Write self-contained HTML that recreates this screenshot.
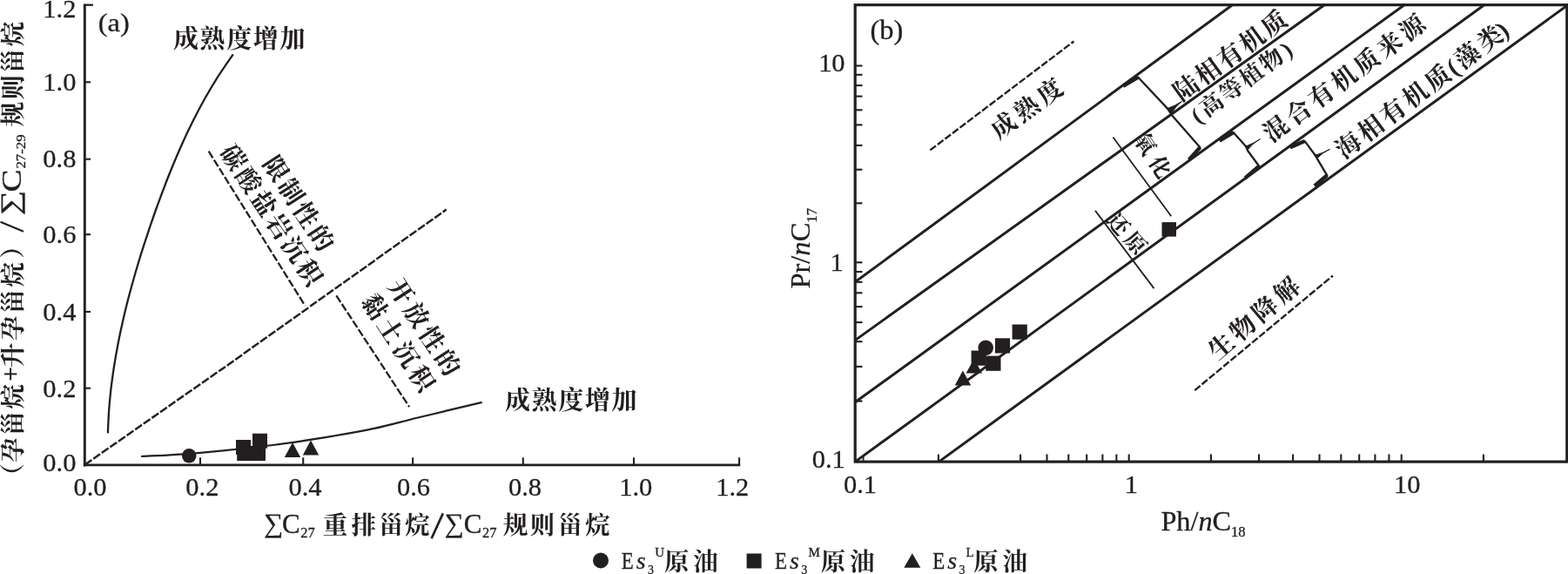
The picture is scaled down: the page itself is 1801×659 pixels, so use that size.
<!DOCTYPE html>
<html><head><meta charset="utf-8"><title>chart</title>
<style>
html,body{margin:0;padding:0;background:#fff;}
svg{display:block;font-family:"Liberation Serif",serif;will-change:transform;-webkit-font-smoothing:antialiased;}
text{fill:#231f20;stroke:#231f20;stroke-width:0.3px;}
.cjk{font-family:"Liberation Serif","Noto Serif CJK SC",serif;font-weight:bold;stroke:none;}
</style></head>
<body>
<svg width="1801" height="659" viewBox="0 0 1801 659" stroke="#231f20" fill="none">
<rect x="0" y="0" width="1801" height="659" fill="#ffffff" stroke="none"/>
<line x1="97.3" y1="4.5" x2="97.3" y2="535.4" stroke-width="2.9" stroke-linecap="butt"/>
<line x1="95.9" y1="533.9" x2="850.2" y2="533.9" stroke-width="2.9" stroke-linecap="butt"/>
<line x1="97.3" y1="5.7" x2="106.9" y2="5.7" stroke-width="2.3" stroke-linecap="butt"/>
<line x1="97.3" y1="94.3" x2="104.0" y2="94.3" stroke-width="2.1" stroke-linecap="butt"/>
<line x1="97.3" y1="182.7" x2="104.0" y2="182.7" stroke-width="2.1" stroke-linecap="butt"/>
<line x1="97.3" y1="269.2" x2="104.0" y2="269.2" stroke-width="2.1" stroke-linecap="butt"/>
<line x1="97.3" y1="357.9" x2="104.0" y2="357.9" stroke-width="2.1" stroke-linecap="butt"/>
<line x1="97.3" y1="445.7" x2="104.0" y2="445.7" stroke-width="2.1" stroke-linecap="butt"/>
<line x1="230.0" y1="533.9" x2="230.0" y2="525.3" stroke-width="2.1" stroke-linecap="butt"/>
<line x1="348.2" y1="533.9" x2="348.2" y2="525.3" stroke-width="2.1" stroke-linecap="butt"/>
<line x1="474.1" y1="533.9" x2="474.1" y2="525.3" stroke-width="2.1" stroke-linecap="butt"/>
<line x1="600.8" y1="533.9" x2="600.8" y2="525.3" stroke-width="2.1" stroke-linecap="butt"/>
<line x1="728.0" y1="533.9" x2="728.0" y2="525.3" stroke-width="2.1" stroke-linecap="butt"/>
<line x1="849.1" y1="533.9" x2="849.1" y2="525.3" stroke-width="2.1" stroke-linecap="butt"/>
<text transform="translate(87.4,20.0) scale(1.04,1)" font-size="29.3" text-anchor="end">1.2</text>
<text transform="translate(87.4,104.0) scale(1.04,1)" font-size="29.3" text-anchor="end">1.0</text>
<text transform="translate(87.4,192.3) scale(1.04,1)" font-size="29.3" text-anchor="end">0.8</text>
<text transform="translate(87.4,278.9) scale(1.04,1)" font-size="29.3" text-anchor="end">0.6</text>
<text transform="translate(87.4,367.7) scale(1.04,1)" font-size="29.3" text-anchor="end">0.4</text>
<text transform="translate(87.4,455.5) scale(1.04,1)" font-size="29.3" text-anchor="end">0.2</text>
<text transform="translate(87.4,541.0) scale(1.04,1)" font-size="29.3" text-anchor="end">0.0</text>
<text transform="translate(103.5,568.8) scale(1.04,1)" font-size="29.3" text-anchor="middle">0.0</text>
<text transform="translate(232.4,568.8) scale(1.04,1)" font-size="29.3" text-anchor="middle">0.2</text>
<text transform="translate(350.5,568.8) scale(1.04,1)" font-size="29.3" text-anchor="middle">0.4</text>
<text transform="translate(475.0,568.8) scale(1.04,1)" font-size="29.3" text-anchor="middle">0.6</text>
<text transform="translate(603.0,568.8) scale(1.04,1)" font-size="29.3" text-anchor="middle">0.8</text>
<text transform="translate(730.3,568.8) scale(1.04,1)" font-size="29.3" text-anchor="middle">1.0</text>
<text transform="translate(841.2,568.8) scale(1.04,1)" font-size="29.3" text-anchor="middle">1.2</text>
<text x="112.8" y="35.6" font-size="29.3" text-anchor="start" textLength="36" lengthAdjust="spacingAndGlyphs">(a)</text>
<path d="M267.8,62.3C264.9,66.6 255.9,79.4 250.4,87.9C245.0,96.4 239.9,105.0 235.1,113.5C230.3,122.0 225.8,130.6 221.6,139.1C217.3,147.6 213.3,156.1 209.4,164.7C205.6,173.2 201.9,181.7 198.4,190.3C194.9,198.8 191.5,207.3 188.3,215.9C185.0,224.4 181.9,232.9 178.8,241.5C175.8,250.0 172.8,258.5 170.0,267.1C167.1,275.6 164.4,284.1 161.7,292.6C159.1,301.2 156.5,309.7 154.1,318.2C151.6,326.8 149.3,335.3 147.1,343.8C144.9,352.4 142.8,360.9 140.9,369.4C138.9,378.0 137.1,386.5 135.5,395.0C133.9,403.6 132.4,412.1 131.0,420.6C129.7,429.1 128.5,437.7 127.5,446.2C126.6,454.7 125.7,463.3 125.1,471.8C124.5,480.3 124.1,493.1 123.9,497.4" stroke-width="2.3" fill="none" />
<path d="M162.1,524.0C172.5,523.4 199.4,522.5 224.6,520.3C249.8,518.1 286.8,514.3 313.2,511.0C339.6,507.7 363.8,503.7 383.2,500.5C402.6,497.3 413.7,495.4 429.8,491.9C445.9,488.4 459.4,484.5 480.0,479.5C500.6,474.5 541.4,464.8 553.7,461.9" stroke-width="2.2" fill="none" />
<path d="M97.6,533.4L260.3,420L512.6,240.6" stroke-width="2.45" fill="none" stroke-dasharray="9.5 2.2" stroke-linejoin="round"/>
<line x1="239.7" y1="173.7" x2="350.5" y2="351.2" stroke-width="2.3" stroke-dasharray="9 2.6" stroke-linecap="butt"/>
<line x1="386.3" y1="339.3" x2="470.1" y2="467.1" stroke-width="2.3" stroke-dasharray="9 2.6" stroke-linecap="butt"/>
<g transform="translate(213.5,43.5) rotate(0.0)" stroke="none" fill="#231f20"><text class="cjk" x="-14.5 16.1 46.7 77.3 107.9" y="11.02" font-size="29">成熟度增加</text></g>
<g transform="translate(594.6,458.7) rotate(0.0)" stroke="none" fill="#231f20"><text class="cjk" x="-14.5 16.1 46.7 77.3 107.9" y="11.02" font-size="29">成熟度增加</text></g>
<g transform="translate(317.6,193.2) rotate(57.0)" stroke="none" fill="#231f20"><text class="cjk" x="-14.25 17.45 49.15 80.85" y="10.83" font-size="28.5">限制性的</text></g>
<g transform="translate(268.6,180.5) rotate(56.5)" stroke="none" fill="#231f20"><text class="cjk" x="-14.25 17.45 49.15 80.85 112.55 144.25" y="10.83" font-size="28.5">碳酸盐岩沉积</text></g>
<g transform="translate(461.4,334.3) rotate(57.0)" stroke="none" fill="#231f20"><text class="cjk" x="-14.25 18.25 50.75 83.25" y="10.83" font-size="28.5">开放性的</text></g>
<g transform="translate(431.0,351.4) rotate(56.8)" stroke="none" fill="#231f20"><text class="cjk" x="-14.25 18.75 51.75 84.75" y="10.83" font-size="28.5">黏土沉积</text></g>
<circle cx="217.2" cy="523.3" r="8.3" fill="#231f20" stroke="none"/>
<rect x="271.0" y="505.0" width="17" height="17" fill="#231f20" stroke="none"/>
<rect x="290.0" y="497.7" width="17" height="17" fill="#231f20" stroke="none"/>
<rect x="272.2" y="512.0" width="17" height="17" fill="#231f20" stroke="none"/>
<rect x="288.0" y="512.0" width="17" height="17" fill="#231f20" stroke="none"/>
<path d="M326.8,525.0L345.2,525.0L336.0,508.0Z" fill="#231f20" stroke="none"/>
<path d="M347.8,522.4L366.2,522.4L357.0,505.4Z" fill="#231f20" stroke="none"/>
<text x="303.0" y="610.6" font-size="31" text-anchor="start" >∑</text>
<text x="324.0" y="612.3" font-size="31" text-anchor="start" >C</text>
<text x="345.3" y="617.0" font-size="16.5" text-anchor="start" >27</text>
<g transform="translate(385.0,602.0) rotate(0.0)" stroke="none" fill="#231f20"><text class="cjk" x="-14.25 18.45 49.95 79.95" y="10.83" font-size="28.5">重排甾烷</text></g>
<line x1="495.6" y1="618.2" x2="508.8" y2="589.4" stroke-width="2.7" stroke-linecap="butt"/>
<text x="510.5" y="610.6" font-size="31" text-anchor="start" >∑</text>
<text x="532.7" y="612.3" font-size="31" text-anchor="start" >C</text>
<text x="554.0" y="617.0" font-size="16.5" text-anchor="start" >27</text>
<g transform="translate(592.0,602.0) rotate(0.0)" stroke="none" fill="#231f20"><text class="cjk" x="-14.25 16.45 48.75 80.05" y="10.83" font-size="28.5">规则甾烷</text></g>
<g transform="translate(0,0) rotate(-90)">
<g transform="translate(-546.2,14.5) rotate(0.0)" stroke="none" fill="#231f20"><text class="cjk" x="-14.25" y="10.83" font-size="28.5">（</text></g>
<g transform="translate(-516.8,14.5) rotate(0.0)" stroke="none" fill="#231f20"><text class="cjk" x="-14.25 16.55 47.35" y="10.83" font-size="28.5">孕甾烷</text></g>
<g transform="translate(-407.7,14.5) rotate(0.0)" stroke="none" fill="#231f20"><text class="cjk" x="-14.25 16.55 47.35 78.15" y="10.83" font-size="28.5">升孕甾烷</text></g>
<g transform="translate(-282.5,14.5) rotate(0.0)" stroke="none" fill="#231f20"><text class="cjk" x="-14.25" y="10.83" font-size="28.5">）</text></g>
<text transform="translate(-247.4,21.6) scale(1.3,1)" font-size="31">∑</text>
<text transform="translate(-220.6,23.5) scale(1.2,1)" font-size="32.5">C</text>
<text transform="translate(-193.6,28.6) scale(1.16,1)" font-size="14.5">27-29</text>
<g transform="translate(-131.2,14.5) rotate(0.0)" stroke="none" fill="#231f20"><text class="cjk" x="-14.25 16.45 47.15 77.85" y="10.83" font-size="28.5">规则甾烷</text></g>
</g>
<line x1="27.0" y1="265.8" x2="0.5" y2="254.8" stroke-width="2.3" stroke-linecap="butt"/>
<line x1="12.1" y1="422.4" x2="12.1" y2="436.4" stroke-width="2.0" stroke-linecap="butt"/>
<line x1="5.0" y1="429.4" x2="19.3" y2="429.4" stroke-width="2.0" stroke-linecap="butt"/>
<circle cx="690.0" cy="643.5" r="9" fill="#231f20" stroke="none"/>
<rect x="857.6" y="635.5" width="17" height="17" fill="#231f20" stroke="none"/>
<path d="M1038.3,651.8L1057.3,651.8L1047.8,635.3Z" fill="#231f20" stroke="none"/>
<text x="713.8" y="652.6" font-size="27" text-anchor="start" textLength="14" lengthAdjust="spacingAndGlyphs">E</text>
<text x="730.8" y="652.6" font-size="28" text-anchor="start" style="font-style:italic" >s</text>
<text x="744.1" y="658.6" font-size="14" text-anchor="start" >3</text>
<text x="752.2" y="639.4" font-size="15" text-anchor="start" >U</text>
<g transform="translate(777.2,644.3) rotate(0.0)" stroke="none" fill="#231f20"><text class="cjk" x="-14.25 19.05" y="10.83" font-size="28.5">原油</text></g>
<text x="890.0" y="652.6" font-size="27" text-anchor="start" textLength="14" lengthAdjust="spacingAndGlyphs">E</text>
<text x="907.0" y="652.6" font-size="28" text-anchor="start" style="font-style:italic" >s</text>
<text x="920.3" y="658.6" font-size="14" text-anchor="start" >3</text>
<text x="928.4" y="639.4" font-size="15" text-anchor="start" >M</text>
<g transform="translate(957.0,644.3) rotate(0.0)" stroke="none" fill="#231f20"><text class="cjk" x="-14.25 19.05" y="10.83" font-size="28.5">原油</text></g>
<text x="1071.2" y="652.6" font-size="27" text-anchor="start" textLength="14" lengthAdjust="spacingAndGlyphs">E</text>
<text x="1088.2" y="652.6" font-size="28" text-anchor="start" style="font-style:italic" >s</text>
<text x="1101.5" y="658.6" font-size="14" text-anchor="start" >3</text>
<text x="1109.6" y="639.4" font-size="15" text-anchor="start" >L</text>
<g transform="translate(1132.5,644.3) rotate(0.0)" stroke="none" fill="#231f20"><text class="cjk" x="-14.25 19.05" y="10.83" font-size="28.5">原油</text></g>
<rect x="982.2" y="5.65" width="817.5999999999999" height="524.45" fill="none" stroke-width="3.2"/>
<line x1="982.2" y1="75.5" x2="990.5" y2="75.5" stroke-width="2.1" stroke-linecap="butt"/>
<line x1="982.2" y1="85.8" x2="990.5" y2="85.8" stroke-width="2.1" stroke-linecap="butt"/>
<line x1="982.2" y1="98.1" x2="990.5" y2="98.1" stroke-width="2.1" stroke-linecap="butt"/>
<line x1="982.2" y1="110.6" x2="990.5" y2="110.6" stroke-width="2.1" stroke-linecap="butt"/>
<line x1="982.2" y1="126.3" x2="990.5" y2="126.3" stroke-width="2.1" stroke-linecap="butt"/>
<line x1="982.2" y1="143.4" x2="990.5" y2="143.4" stroke-width="2.1" stroke-linecap="butt"/>
<line x1="982.2" y1="166.9" x2="990.5" y2="166.9" stroke-width="2.1" stroke-linecap="butt"/>
<line x1="982.2" y1="194.7" x2="990.5" y2="194.7" stroke-width="2.1" stroke-linecap="butt"/>
<line x1="982.2" y1="233.3" x2="990.5" y2="233.3" stroke-width="2.1" stroke-linecap="butt"/>
<line x1="982.2" y1="301.3" x2="990.5" y2="301.3" stroke-width="2.1" stroke-linecap="butt"/>
<line x1="982.2" y1="312.0" x2="990.5" y2="312.0" stroke-width="2.1" stroke-linecap="butt"/>
<line x1="982.2" y1="323.8" x2="990.5" y2="323.8" stroke-width="2.1" stroke-linecap="butt"/>
<line x1="982.2" y1="336.3" x2="990.5" y2="336.3" stroke-width="2.1" stroke-linecap="butt"/>
<line x1="982.2" y1="352.1" x2="990.5" y2="352.1" stroke-width="2.1" stroke-linecap="butt"/>
<line x1="982.2" y1="370.1" x2="990.5" y2="370.1" stroke-width="2.1" stroke-linecap="butt"/>
<line x1="982.2" y1="392.2" x2="990.5" y2="392.2" stroke-width="2.1" stroke-linecap="butt"/>
<line x1="982.2" y1="420.9" x2="990.5" y2="420.9" stroke-width="2.1" stroke-linecap="butt"/>
<line x1="982.2" y1="460.5" x2="990.5" y2="460.5" stroke-width="2.1" stroke-linecap="butt"/>
<line x1="1077.9" y1="530.1" x2="1077.9" y2="521.5" stroke-width="2.1" stroke-linecap="butt"/>
<line x1="1172.1" y1="530.1" x2="1172.1" y2="521.5" stroke-width="2.1" stroke-linecap="butt"/>
<line x1="1202.5" y1="530.1" x2="1202.5" y2="521.5" stroke-width="2.1" stroke-linecap="butt"/>
<line x1="1227.3" y1="530.1" x2="1227.3" y2="521.5" stroke-width="2.1" stroke-linecap="butt"/>
<line x1="1248.2" y1="530.1" x2="1248.2" y2="521.5" stroke-width="2.1" stroke-linecap="butt"/>
<line x1="1266.4" y1="530.1" x2="1266.4" y2="521.5" stroke-width="2.1" stroke-linecap="butt"/>
<line x1="1282.4" y1="530.1" x2="1282.4" y2="521.5" stroke-width="2.1" stroke-linecap="butt"/>
<line x1="1296.7" y1="530.1" x2="1296.7" y2="521.5" stroke-width="2.1" stroke-linecap="butt"/>
<line x1="1390.9" y1="530.1" x2="1390.9" y2="521.5" stroke-width="2.1" stroke-linecap="butt"/>
<line x1="1446.0" y1="530.1" x2="1446.0" y2="521.5" stroke-width="2.1" stroke-linecap="butt"/>
<line x1="1485.1" y1="530.1" x2="1485.1" y2="521.5" stroke-width="2.1" stroke-linecap="butt"/>
<line x1="1515.5" y1="530.1" x2="1515.5" y2="521.5" stroke-width="2.1" stroke-linecap="butt"/>
<line x1="1540.3" y1="530.1" x2="1540.3" y2="521.5" stroke-width="2.1" stroke-linecap="butt"/>
<line x1="1561.2" y1="530.1" x2="1561.2" y2="521.5" stroke-width="2.1" stroke-linecap="butt"/>
<line x1="1579.4" y1="530.1" x2="1579.4" y2="521.5" stroke-width="2.1" stroke-linecap="butt"/>
<line x1="1595.4" y1="530.1" x2="1595.4" y2="521.5" stroke-width="2.1" stroke-linecap="butt"/>
<line x1="1609.7" y1="530.1" x2="1609.7" y2="521.5" stroke-width="2.1" stroke-linecap="butt"/>
<line x1="1703.9" y1="530.1" x2="1703.9" y2="521.5" stroke-width="2.1" stroke-linecap="butt"/>
<line x1="991.6" y1="530.1" x2="991.6" y2="523.5" stroke-width="1.8" stroke-linecap="butt"/>
<line x1="982.2" y1="323.8" x2="1415.4" y2="5.7" stroke-width="3.0" stroke-linecap="butt"/>
<line x1="982.2" y1="390.6" x2="1521.1" y2="5.7" stroke-width="3.0" stroke-linecap="butt"/>
<line x1="982.2" y1="461.8" x2="1612.9" y2="5.7" stroke-width="3.0" stroke-linecap="butt"/>
<line x1="982.2" y1="530.1" x2="1704.7" y2="5.7" stroke-width="3.0" stroke-linecap="butt"/>
<line x1="1078.4" y1="530.1" x2="1800.8" y2="5.7" stroke-width="3.0" stroke-linecap="butt"/>
<text transform="translate(970.6,81.9) scale(1.04,1)" font-size="29.3" text-anchor="end">10</text>
<text transform="translate(968.8,311.2) scale(1.04,1)" font-size="29.3" text-anchor="end">1</text>
<text transform="translate(970.8,536.8) scale(1.04,1)" font-size="29.3" text-anchor="end">0.1</text>
<text transform="translate(988.0,566.4) scale(1.04,1)" font-size="29.3" text-anchor="middle">0.1</text>
<text transform="translate(1299.4,566.4) scale(1.04,1)" font-size="29.3" text-anchor="middle">1</text>
<text transform="translate(1616.3,566.4) scale(1.04,1)" font-size="29.3" text-anchor="middle">10</text>
<text x="999.5" y="45.2" font-size="32.5" text-anchor="start" >(b)</text>
<text transform="translate(1333.4,609.3) scale(1.04,1)" font-size="31">Ph/<tspan font-style="italic">n</tspan>C<tspan font-size="16" dy="6.5">18</tspan></text>
<text transform="translate(930.3,331.6) rotate(-90) scale(1.05,1)" font-size="31">Pr/<tspan font-style="italic">n</tspan>C<tspan font-size="16" dy="8">17</tspan></text>
<line x1="1068.4" y1="172.4" x2="1233.4" y2="47.5" stroke-width="2.35" stroke-dasharray="8.3 2.4" stroke-linecap="butt"/>
<line x1="1372.3" y1="448.1" x2="1530.9" y2="316.5" stroke-width="2.35" stroke-dasharray="8.3 2.4" stroke-linecap="butt"/>
<g transform="translate(1152.2,143.5) rotate(-36.0)" stroke="none" fill="#231f20"><text class="cjk" x="-14.25 18.75 51.75" y="10.83" font-size="28.5">成熟度</text></g>
<g transform="translate(1402.2,397.1) rotate(-40.5)" stroke="none" fill="#231f20"><text class="cjk" x="-14.25 18.75 51.75 84.75" y="10.83" font-size="28.5">生物降解</text></g>
<line x1="1278.4" y1="157.5" x2="1345.3" y2="248.3" stroke-width="1.8" stroke-linecap="butt"/>
<line x1="1258.0" y1="241.9" x2="1325.5" y2="331.1" stroke-width="1.8" stroke-linecap="butt"/>
<g transform="translate(1316.2,164.8) rotate(57.5)" stroke="none" fill="#231f20"><text class="cjk" x="-12.25 19.25" y="9.31" font-size="24.5">氧化</text></g>
<g transform="translate(1285.0,256.8) rotate(48.0)" stroke="none" fill="#231f20"><text class="cjk" x="-12.25 17.25" y="9.31" font-size="24.5">还原</text></g>
<path d="M1307.3,88.7L1341,124.6" stroke-width="2.3" fill="none" stroke-linecap="round"/>
<path d="M1341,124.6Q1349.8,121.4 1357.4,116.4Q1350.0,122.1 1345.2,130.8Z" stroke-width="1.0" fill="#231f20" stroke-linejoin="round"/>
<path d="M1341,124.6L1346.2,132.4L1378.4,169.3" stroke-width="2.3" fill="none" stroke-linecap="round" stroke-linejoin="round"/>
<line x1="1290.0" y1="98.9" x2="1307.3" y2="88.7" stroke-width="4.4" stroke-linecap="butt"/>
<line x1="1378.4" y1="169.3" x2="1365.6" y2="183.4" stroke-width="4.4" stroke-linecap="butt"/>
<path d="M1416.6,152L1431,168" stroke-width="2.3" fill="none" stroke-linecap="round"/>
<path d="M1431,168Q1439.8,164.7 1447.4,159.6Q1438.8,164.4 1432.8,172.2Z" stroke-width="1.0" fill="#231f20" stroke-linejoin="round"/>
<path d="M1431,168L1433.3,173.3L1446.2,190.7" stroke-width="2.3" fill="none" stroke-linecap="round" stroke-linejoin="round"/>
<line x1="1400.6" y1="161.5" x2="1416.6" y2="152.0" stroke-width="4.4" stroke-linecap="butt"/>
<line x1="1446.2" y1="190.7" x2="1430.2" y2="204.4" stroke-width="4.4" stroke-linecap="butt"/>
<path d="M1498.5,161.9L1510.7,178.3" stroke-width="2.3" fill="none" stroke-linecap="round"/>
<path d="M1510.7,178.3Q1519.7,175.7 1527.4,171.3Q1518.8,175.1 1512.8,181.9Z" stroke-width="1.0" fill="#231f20" stroke-linejoin="round"/>
<path d="M1510.7,178.3L1513.3,182.8L1524.3,201.3" stroke-width="2.3" fill="none" stroke-linecap="round" stroke-linejoin="round"/>
<line x1="1481.8" y1="169.2" x2="1498.5" y2="161.9" stroke-width="4.4" stroke-linecap="butt"/>
<line x1="1524.3" y1="201.3" x2="1509.9" y2="213.5" stroke-width="4.4" stroke-linecap="butt"/>
<g transform="translate(1361.9,100.1) rotate(-36.1)" stroke="none" fill="#231f20"><text class="cjk" x="-14.25 17.05 48.35 79.65 110.95" y="10.83" font-size="28.5">陆相有机质</text></g>
<g transform="translate(1374.5,131.7) rotate(-36.5)" stroke="none" fill="#231f20"><text class="cjk" x="-5.2 7.5 36.2 64.9 93.6 123.3" y="9.88" font-size="26">(高等植物)</text></g>
<g transform="translate(1465.1,147.4) rotate(-36.5)" stroke="none" fill="#231f20"><text class="cjk" x="-14.25 18.25 50.75 83.25 115.75 148.25 180.75" y="10.83" font-size="28.5">混合有机质来源</text></g>
<g transform="translate(1548.3,166.2) rotate(-37.0)" stroke="none" fill="#231f20"><text class="cjk" x="-14.25 17.95 50.15 82.35 114.45 144.8 156.95 189.35 216.6" y="10.83" font-size="28.5">海相有机质(藻类)</text></g>
<rect x="1334.5" y="255.1" width="16.5" height="16.5" fill="#231f20" stroke="none"/>
<path d="M1109.5,428.4L1128.0,428.4L1118.8,411.9Z" fill="#231f20" stroke="none"/>
<path d="M1096.7,442.6L1115.2,442.6L1105.9,425.4Z" fill="#231f20" stroke="none"/>
<rect x="1162.6" y="372.5" width="17.2" height="17.2" fill="#231f20" stroke="none"/>
<rect x="1142.9" y="388.3" width="17.2" height="17.2" fill="#231f20" stroke="none"/>
<rect x="1115.6" y="402.5" width="17.2" height="17.2" fill="#231f20" stroke="none"/>
<rect x="1132.3" y="408.6" width="17.2" height="17.2" fill="#231f20" stroke="none"/>
<circle cx="1132.2" cy="399.2" r="8.8" fill="#231f20" stroke="none"/>
</svg>
</body></html>
